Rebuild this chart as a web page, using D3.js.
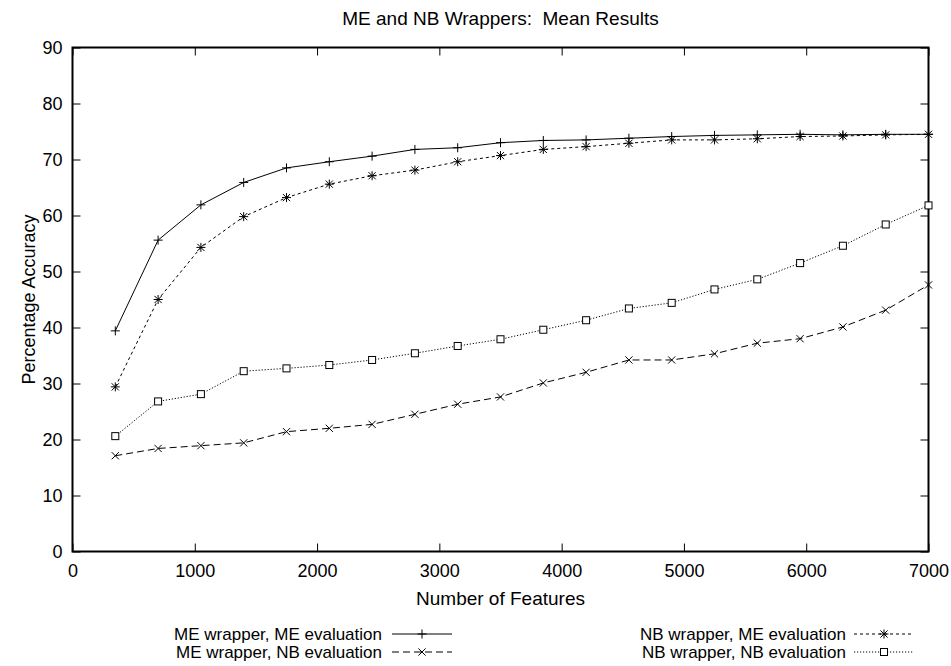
<!DOCTYPE html>
<html>
<head>
<meta charset="utf-8">
<script src="https://cdn.jsdelivr.net/npm/d3@7"></script>
<style>
  html, body { margin: 0; padding: 0; background: #fff; }
  svg text { font-family: "Liberation Sans", Arial, Helvetica, sans-serif; fill: #000; white-space: pre; }
</style>
</head>
<body>
<svg id="chart" width="951" height="666"></svg>
<script>
// Feature counts evaluated
const features = [350, 700, 1050, 1400, 1750, 2100, 2450, 2800, 3150, 3500,
                  3850, 4200, 4550, 4900, 5250, 5600, 5950, 6300, 6650, 7000];

// Mean accuracy (%) per wrapper / evaluation pairing
const meWrapperMeEval = [39.4, 55.6, 61.9, 65.9, 68.5, 69.6, 70.6, 71.8, 72.1, 73.0,
                         73.4, 73.5, 73.8, 74.1, 74.3, 74.4, 74.5, 74.4, 74.5, 74.5];
const meWrapperNbEval = [17.1, 18.4, 18.9, 19.4, 21.4, 22.0, 22.7, 24.5, 26.3, 27.6,
                         30.1, 32.0, 34.2, 34.2, 35.3, 37.2, 38.0, 40.1, 43.1, 47.6];
const nbWrapperMeEval = [29.4, 45.0, 54.3, 59.8, 63.2, 65.6, 67.1, 68.1, 69.6, 70.7,
                         71.8, 72.3, 72.9, 73.5, 73.5, 73.7, 74.1, 74.2, 74.4, 74.5];
const nbWrapperNbEval = [20.6, 26.8, 28.1, 32.2, 32.7, 33.3, 34.2, 35.4, 36.7, 37.9,
                         39.6, 41.3, 43.4, 44.4, 46.8, 48.6, 51.5, 54.6, 58.4, 61.8];

const xTicks = [0, 1000, 2000, 3000, 4000, 5000, 6000, 7000];
const yTicks = [0, 10, 20, 30, 40, 50, 60, 70, 80, 90];

const seriesNames = ["ME wrapper, ME evaluation", "ME wrapper, NB evaluation",
                     "NB wrapper, ME evaluation", "NB wrapper, NB evaluation"];

const svg = d3.select("#chart");
const margin = { left: 72.5, right: 22.5, top: 47.5, bottom: 114.5 };
const W = 951, H = 666;
const x = d3.scaleLinear().domain([0, 7000]).range([margin.left, W - margin.right]);
const y = d3.scaleLinear().domain([0, 90]).range([H - margin.bottom, margin.top]);
const FS = 18;

// Series styling: marker symbol and dash pattern
const series = [
  { name: seriesNames[0], values: meWrapperMeEval, marker: "plus",   dash: null,  col: 0 },
  { name: seriesNames[1], values: meWrapperNbEval, marker: "cross",  dash: "7,4", col: 0 },
  { name: seriesNames[2], values: nbWrapperMeEval, marker: "star",   dash: "3,3", col: 1 },
  { name: seriesNames[3], values: nbWrapperNbEval, marker: "square", dash: "1.2,1.8", col: 1 }
];

function drawMarker(g, type, cx, cy) {
  const s = 4.5;
  const m = g.append("g").attr("transform", `translate(${cx},${cy})`)
    .attr("stroke", "#000").attr("stroke-width", 1).attr("fill", "none");
  if (type === "plus" || type === "star") {
    m.append("path").attr("d", `M${-s},0H${s}M0,${-s}V${s}`);
  }
  if (type === "cross" || type === "star") {
    const c = s * 0.8;
    m.append("path").attr("d", `M${-c},${-c}L${c},${c}M${-c},${c}L${c},${-c}`);
  }
  if (type === "square") {
    m.append("rect").attr("x", -3.5).attr("y", -3.5).attr("width", 7).attr("height", 7)
      .attr("fill", "#fff");
  }
}

// Axes with inward ticks, mirrored on top and right
const tickLen = 8;
svg.append("g").attr("transform", `translate(0,${y(0)})`)
  .call(d3.axisBottom(x).tickValues(xTicks).tickFormat(d3.format("d"))
    .tickSizeInner(-tickLen).tickSizeOuter(0).tickPadding(13))
  .call(g => g.select(".domain").remove())
  .call(g => g.selectAll("text").attr("font-size", FS).attr("font-family", null));
svg.append("g").attr("transform", `translate(0,${y(90)})`)
  .call(d3.axisTop(x).tickValues(xTicks).tickFormat("").tickSizeInner(-tickLen).tickSizeOuter(0))
  .call(g => g.select(".domain").remove());
svg.append("g").attr("transform", `translate(${x(0)},0)`)
  .call(d3.axisLeft(y).tickValues(yTicks).tickFormat(d3.format("d"))
    .tickSizeInner(-tickLen).tickSizeOuter(0).tickPadding(10))
  .call(g => g.select(".domain").remove())
  .call(g => g.selectAll("text").attr("font-size", FS).attr("font-family", null));
svg.append("g").attr("transform", `translate(${x(7000)},0)`)
  .call(d3.axisRight(y).tickValues(yTicks).tickFormat("").tickSizeInner(-tickLen).tickSizeOuter(0))
  .call(g => g.select(".domain").remove());
svg.selectAll(".tick line").attr("stroke", "#000").attr("stroke-width", 1);

// Plot border
svg.append("rect")
  .attr("x", x(0)).attr("y", y(90))
  .attr("width", x(7000) - x(0)).attr("height", y(0) - y(90))
  .attr("fill", "none").attr("stroke", "#000").attr("stroke-width", 2);

// Data lines and markers
const line = d3.line().x(d => x(d[0])).y(d => y(d[1]));
series.forEach(s => {
  const pts = features.map((f, i) => [f, s.values[i]]);
  svg.append("path").datum(pts).attr("d", line)
    .attr("fill", "none").attr("stroke", "#000").attr("stroke-width", 1)
    .attr("stroke-dasharray", s.dash);
  const mg = svg.append("g");
  pts.forEach(p => drawMarker(mg, s.marker, x(p[0]), y(p[1])));
});

// Titles
svg.append("text").attr("x", (x(0) + x(7000)) / 2).attr("y", 25)
  .attr("text-anchor", "middle").attr("font-size", 19)
  .text("ME and NB Wrappers:  Mean Results");
svg.append("text").attr("x", (x(0) + x(7000)) / 2).attr("y", 605)
  .attr("text-anchor", "middle").attr("font-size", 19)
  .text("Number of Features");
svg.append("text")
  .attr("transform", `translate(35,${(y(0) + y(90)) / 2}) rotate(-90)`)
  .attr("text-anchor", "middle").attr("font-size", FS)
  .text("Percentage Accuracy");

// Legend below the plot, two columns
const LFS = 17;
const legendCols = [{ textRight: 382, sx0: 392, sx1: 452 }, { textRight: 846, sx0: 854, sx1: 914 }];
const legendRows = [640, 658];
const rowCount = [0, 0];
series.forEach(s => {
  const c = legendCols[s.col];
  const by = legendRows[rowCount[s.col]++];
  svg.append("text").attr("x", c.textRight).attr("y", by)
    .attr("text-anchor", "end").attr("font-size", LFS).text(s.name);
  const ly = by - 6;
  svg.append("line").attr("x1", c.sx0).attr("x2", c.sx1).attr("y1", ly).attr("y2", ly)
    .attr("stroke", "#000").attr("stroke-width", 1).attr("stroke-dasharray", s.dash);
  drawMarker(svg, s.marker, (c.sx0 + c.sx1) / 2, ly);
});
</script>
</body>
</html>
